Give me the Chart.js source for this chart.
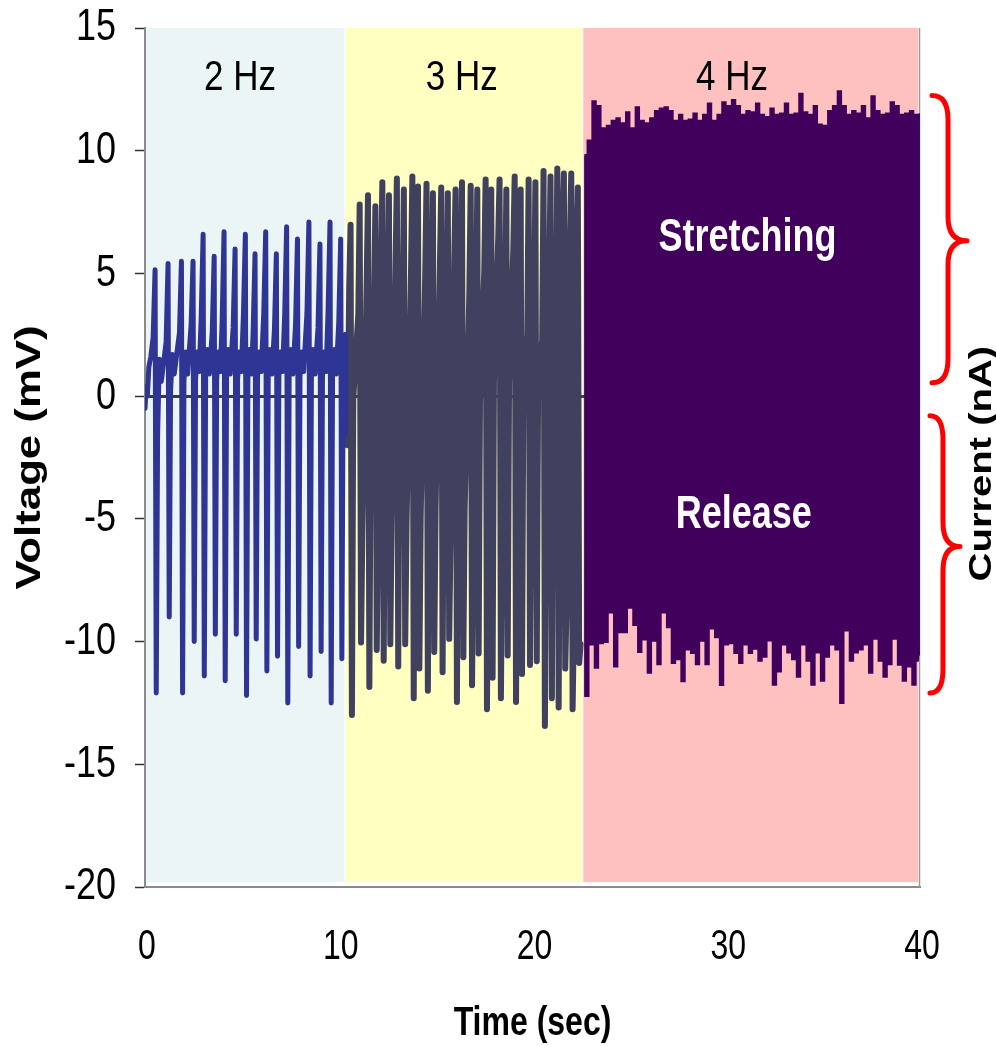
<!DOCTYPE html>
<html>
<head>
<meta charset="utf-8">
<script src="https://cdn.jsdelivr.net/npm/chart.js@4/dist/chart.umd.min.js"></script>
<style>
  html, body { margin: 0; padding: 0; background: #fff; }
  canvas { display: block; }
</style>
</head>
<body>
<canvas id="chart" width="996" height="1046"></canvas>
<script>
// ---------- axis ticks ----------
const xTickValues = [0, 10, 20, 30, 40];
const yTickValues = [15, 10, 5, 0, -5, -10, -15, -20];

// ---------- frequency bands (seconds) ----------
const bandLabels = ['2 Hz', '3 Hz', '4 Hz'];
const bandStarts = [0, 10.36, 22.62];
const bandEnds   = [10.3, 22.56, 39.9];
const bandTop = 15, bandBottom = -19.8;
const bandLabelT = [4.9, 16.35, 30.3];
const bandLabelV = 12.95;

// ---------- 2 Hz section: one entry per stretch/release cycle ----------
const lead2T = [0, 0.06, 0.12, 0.2, 0.3];
const lead2V = [-0.5, 0.4, 0.0, 1.2, 1.6];
const spikeT2 = [0.52, 1.19, 1.88, 2.48, 3.0, 3.57, 4.08, 4.65, 5.18, 5.68, 6.23, 6.78, 7.31, 7.87, 8.46, 9.03, 9.55, 10.1];
const peak2   = [5.15, 5.4, 5.5, 5.5, 6.6, 5.7, 6.7, 6.0, 6.6, 5.8, 6.7, 5.8, 6.9, 6.4, 7.1, 6.2, 7.1, 6.4];
const trough2 = [-12.1, -9.0, -12.1, -10.0, -11.4, -9.7, -11.6, -9.7, -12.2, -9.9, -11.2, -10.6, -12.5, -10.2, -11.4, -10.4, -12.5, -10.7];
const shoulder2 = [2.4, 2.2, 2.6, 2.9, 3.2, 2.6, 3.0, 2.8, 3.3, 2.6, 3.4, 2.7, 3.3, 2.9, 3.4, 2.8, 3.5, 3.0];
const recover2  = [-1.6, 0.2, 0.6, 0.7, 0.8, 0.7, 0.8, 0.7, 0.9, 0.8, 0.9, 0.8, 0.9, 0.8, 0.9, 0.8, 0.9, 0.8];
const bandHi2   = [1.5, 1.7, 1.8, 1.8, 1.9, 1.8, 1.9, 1.8, 1.9, 1.8, 1.9, 1.8, 1.9, 1.8, 1.9, 1.8, 1.9, 1.8];
const bandLo2   = [0.6, 0.9, 0.9, 1.0, 0.9, 1.0, 0.9, 1.0, 0.9, 1.0, 0.9, 1.0, 0.9, 1.0, 0.9, 1.0, 0.9, 1.0];
const tail2T = [10.3, 10.33, 10.35];
const tail2V = [1.8, 2.5, -1.5];

// ---------- 3 Hz section ----------
const spikeT3 = [10.63, 11.10, 11.53, 11.91, 12.27, 12.61, 13.02, 13.38, 13.82, 14.11, 14.55, 14.88, 15.31, 15.65, 16.05, 16.38,
                 16.83, 17.17, 17.60, 17.89, 18.32, 18.67, 19.10, 19.41, 19.82, 20.17, 20.59, 20.95, 21.30, 21.64, 22.02, 22.36];
const peak3 = [6.98, 7.81, 8.19, 7.74, 8.72, 8.19, 8.87, 8.42, 8.95, 8.54, 8.65, 8.27, 8.5, 8.27, 8.42, 8.72,
               8.57, 8.42, 8.83, 8.42, 8.83, 8.42, 8.95, 8.42, 8.83, 8.72, 9.17, 8.95, 9.28, 9.07, 9.07, 8.5];
const trough3 = [-12.99, -10.04, -11.85, -10.34, -10.78, -10.11, -11.02, -10.11, -12.31, -11.1, -12.0, -10.42, -11.25, -9.89, -12.46, -10.64,
                 -11.78, -10.49, -12.76, -11.47, -12.31, -10.57, -12.46, -11.32, -10.95, -10.8, -13.44, -12.31, -12.69, -11.1, -12.76, -10.87];
const hi3 = [4.4, 3.35, 4.6, 3.6, 5.0, 3.2, 5.3, 3.35, 5.1, 3.35, 4.8, 2.9, 5.3, 3.5, 5.55, 3.65,
             4.2, 3.35, 5.1, 3.2, 6.4, 3.5, 6.0, 3.9, 2.5, 3.35, 2.3, 4.6, 3.1, 7.1, 6.4, 5.9];
const lo3 = [-0.1, -5.42, -1.18, -5.58, -1.79, -5.12, -0.12, -5.19, 0.55, -4.89, -0.88, -4.44, -0.05, -5.8, 0.55, -4.59,
             -4.59, -0.12, -3.3, 0.63, -5.05, 0.55, -3.53, 0.55, -2.85, 0.48, -3.76, 0.94, -2.08, -8.45, -9.13, -10.1];
const start3T = [10.37, 10.45];
const start3V = [2.5, -2.0];

// ---------- 4 Hz section: crest and trough of each cycle ----------
const t4First = 22.68, t4Step = 0.2483;
const peak4 = [9.8, 10.4, 12.0, 11.8, 10.9, 11.0, 11.2, 11.3, 11.1, 11.55,
               10.9, 11.75, 11.2, 11.1, 11.3, 11.6, 11.7, 11.75, 11.6, 11.2,
               11.45, 11.2, 11.25, 11.5, 11.2, 11.45, 11.9, 11.2, 11.45, 11.95,
               11.8, 12.05, 11.8, 11.45, 11.6, 11.55, 11.9, 11.45, 11.35, 11.7,
               11.45, 11.5, 11.9, 11.45, 11.5, 12.3, 11.55, 11.45, 11.8, 11.05,
               11.0, 11.6, 11.8, 12.4, 11.8, 11.45, 11.6, 11.5, 11.8, 11.3,
               12.2, 11.6, 11.45, 11.5, 11.95, 11.8, 11.45, 11.5, 11.6, 11.45];
const trough4 = [-12.2, -10.1, -11.05, -10.05, -10.0, -8.8, -11.0, -9.6, -9.6, -8.6,
                 -9.3, -10.4, -9.9, -11.25, -9.95, -10.9, -8.8, -9.4, -10.85, -10.7,
                 -11.6, -10.3, -10.45, -10.9, -9.95, -10.9, -9.45, -9.8, -11.75, -10.1,
                 -10.05, -10.45, -10.85, -10.1, -10.45, -10.27, -10.76, -10.6, -9.94, -11.74,
                 -11.2, -10.1, -10.43, -10.7, -11.41, -10.1, -10.76, -11.74, -10.43, -11.58,
                 -10.6, -10.1, -10.3, -12.48, -9.53, -10.76, -10.43, -10.3, -10.1, -11.25,
                 -9.86, -10.76, -11.41, -10.9, -9.86, -10.92, -11.58, -11.0, -11.74, -10.76];
const endT = [39.98, 39.98];
const endV = [11.45, -10.5];

// ---------- brace annotations (value ranges on the voltage axis) ----------
const braceTop = [12.25, -0.8];
const braceTip = [6.33, -6.13];
const braceBottom = [0.55, -12.1];
const noteText = ['Stretching', 'Release'];
const noteT = [31.1, 30.9];
const noteV = [6.45, -4.86];

// ---------- build the traces ----------
const trace2 = [];
lead2T.forEach((t, i) => trace2.push({ x: t, y: lead2V[i] }));
spikeT2.forEach((t, i) => {
  trace2.push({ x: t - 0.1, y: shoulder2[i] });
  trace2.push({ x: t, y: peak2[i] });
  trace2.push({ x: t + 0.06, y: trough2[i] });
  trace2.push({ x: t + 0.13, y: recover2[i] });
  if (i < spikeT2.length - 1) {
    trace2.push({ x: t + 0.22, y: bandHi2[i] });
    trace2.push({ x: t + 0.32, y: bandLo2[i] });
  }
});
tail2T.forEach((t, i) => trace2.push({ x: t, y: tail2V[i] }));

const trace3 = start3T.map((t, i) => ({ x: t, y: start3V[i] }));
spikeT3.forEach((t, i) => {
  trace3.push({ x: t - 0.09, y: hi3[i] });
  trace3.push({ x: t - 0.02, y: peak3[i] });
  trace3.push({ x: t + 0.05, y: trough3[i] });
  trace3.push({ x: t + 0.12, y: lo3[i] });
});

const trace4 = [];
peak4.forEach((p, i) => {
  const t = t4First + i * t4Step;
  trace4.push({ x: t, y: p });
  trace4.push({ x: t + t4Step / 2, y: trough4[i] });
});
const traceEnd = endT.map((t, i) => ({ x: t, y: endV[i] }));

// ---------- styles ----------
const FONT = '"Liberation Sans", Arial, Helvetica, sans-serif';
const bandColors = ['#ebf5f6', '#ffffc2', '#ffc0c0'];

function drawText(ctx, s, x, y, o) {
  ctx.save();
  ctx.translate(x, y);
  if (o.rot) ctx.rotate(o.rot);
  ctx.scale(o.sx || 1, o.sy || 1);
  ctx.font = (o.weight || 'normal') + ' ' + o.size + 'px ' + FONT;
  ctx.fillStyle = o.color || '#000';
  ctx.textAlign = o.align || 'center';
  ctx.textBaseline = 'middle';
  ctx.fillText(s, 0, 0);
  ctx.restore();
}

function drawBrace(ctx, xEnd, xSpine, xTip, yTop, yTip, yBot, r) {
  ctx.beginPath();
  ctx.moveTo(xEnd, yTop);
  ctx.quadraticCurveTo(xSpine, yTop, xSpine, yTop + r);
  ctx.lineTo(xSpine, yTip - r);
  ctx.quadraticCurveTo(xSpine, yTip, xTip, yTip);
  ctx.quadraticCurveTo(xSpine, yTip, xSpine, yTip + r);
  ctx.lineTo(xSpine, yBot - r);
  ctx.quadraticCurveTo(xSpine, yBot, xEnd, yBot);
  ctx.stroke();
}

const decor = {
  id: 'decor',
  beforeDraw(chart) {
    const { ctx, scales: { x, y } } = chart;
    ctx.save();
    ctx.fillStyle = '#fff';
    ctx.fillRect(0, 0, chart.width, chart.height);
    const y0 = y.getPixelForValue(bandTop), y1 = y.getPixelForValue(bandBottom);
    bandStarts.forEach((s, i) => {
      const x0 = x.getPixelForValue(s), x1 = x.getPixelForValue(bandEnds[i]);
      ctx.fillStyle = bandColors[i];
      ctx.fillRect(x0, y0, x1 - x0, y1 - y0);
    });
    ctx.restore();
  },
  beforeDatasetsDraw(chart) {
    const { ctx, chartArea } = chart;
    ctx.save();
    ctx.strokeStyle = '#9a9a9a';
    ctx.lineWidth = 1.5;
    ctx.beginPath();
    ctx.moveTo(chartArea.right - 0.5, chartArea.top);
    ctx.lineTo(chartArea.right - 0.5, chartArea.bottom);
    ctx.stroke();
    ctx.restore();
  },
  afterDraw(chart) {
    const { ctx, chartArea, scales: { x, y } } = chart;
    // tick labels
    yTickValues.forEach(v => drawText(ctx, String(v), chartArea.left - 29, y.getPixelForValue(v),
      { size: 36, sy: 1.25, align: 'right' }));
    xTickValues.forEach(v => drawText(ctx, String(v), x.getPixelForValue(v) + 2, chartArea.bottom + 60,
      { size: 32, sy: 1.35 }));
    // axis titles
    drawText(ctx, 'Time (sec)', (chartArea.left + chartArea.right) / 2, chartArea.bottom + 137,
      { size: 32, sy: 1.25, weight: 'bold' });
    drawText(ctx, 'Voltage (mV)', 30, (chartArea.top + chartArea.bottom) / 2,
      { size: 35, sx: 1.25, rot: -Math.PI / 2, weight: 'bold' });
    drawText(ctx, 'Current (nA)', chartArea.right + 62, y.getPixelForValue(-2.75),
      { size: 32, sx: 1.25, rot: -Math.PI / 2, weight: 'bold' });
    // band labels
    bandLabels.forEach((s, i) => drawText(ctx, s, x.getPixelForValue(bandLabelT[i]), y.getPixelForValue(bandLabelV),
      { size: 35, sy: 1.2 }));
    // phase notes
    noteText.forEach((s, i) => drawText(ctx, s, x.getPixelForValue(noteT[i]), y.getPixelForValue(noteV[i]),
      { size: 36, sy: 1.3, weight: 'bold', color: '#fff' }));
    // braces
    ctx.save();
    ctx.strokeStyle = '#ff0000';
    ctx.lineWidth = 5;
    ctx.lineCap = 'round';
    ctx.lineJoin = 'round';
    const R = chartArea.right;
    drawBrace(ctx, R + 12, R + 28, R + 47,
      y.getPixelForValue(braceTop[0]), y.getPixelForValue(braceTip[0]), y.getPixelForValue(braceBottom[0]), 24);
    drawBrace(ctx, R + 10, R + 23, R + 40,
      y.getPixelForValue(braceTop[1]), y.getPixelForValue(braceTip[1]), y.getPixelForValue(braceBottom[1]), 24);
    ctx.restore();
  }
};

const lineBase = { pointRadius: 0, pointHoverRadius: 0, fill: false, tension: 0, borderJoinStyle: 'round', borderCapStyle: 'round' };

new Chart(document.getElementById('chart'), {
  type: 'line',
  data: {
    datasets: [
      Object.assign({ label: '2 Hz', data: trace2, borderColor: '#2e3594', borderWidth: 5 }, lineBase),
      Object.assign({ label: '3 Hz', data: trace3, borderColor: '#40405f', borderWidth: 6 }, lineBase),
      Object.assign({ label: '4 Hz', data: trace4, borderColor: '#40005c', borderWidth: 3, stepped: 'middle' }, lineBase,
        { borderJoinStyle: 'miter', borderCapStyle: 'butt' }),
      Object.assign({ label: 'end', data: traceEnd, borderColor: '#1c1478', borderWidth: 4 }, lineBase)
    ]
  },
  options: {
    responsive: false,
    animation: false,
    events: [],
    layout: { padding: { left: 133, right: 76, top: 28, bottom: 159 } },
    plugins: { legend: { display: false }, tooltip: { enabled: false } },
    scales: {
      x: {
        type: 'linear', min: 0, max: 40,
        afterBuildTicks: s => { s.ticks = xTickValues.map(v => ({ value: v })); },
        afterFit: s => { s.height = 0; },
        ticks: { display: false },
        grid: { display: true, drawTicks: false, color: 'rgba(0,0,0,0)' },
        border: { display: true, color: '#8a8a8a', width: 2 }
      },
      y: {
        type: 'linear', min: -20, max: 15,
        afterBuildTicks: s => { s.ticks = yTickValues.map(v => ({ value: v })); },
        afterFit: s => { s.width = 12; },
        ticks: { display: false },
        grid: {
          drawOnChartArea: true, drawTicks: true, tickLength: 10, tickColor: '#333', tickWidth: 1.5,
          color: c => (c.tick && c.tick.value === 0) ? '#3c3c3c' : 'rgba(0,0,0,0)',
          lineWidth: c => (c.tick && c.tick.value === 0) ? 3 : 1
        },
        border: { display: true, color: '#8a8a8a', width: 2 }
      }
    }
  },
  plugins: [decor]
});
</script>
</body>
</html>
